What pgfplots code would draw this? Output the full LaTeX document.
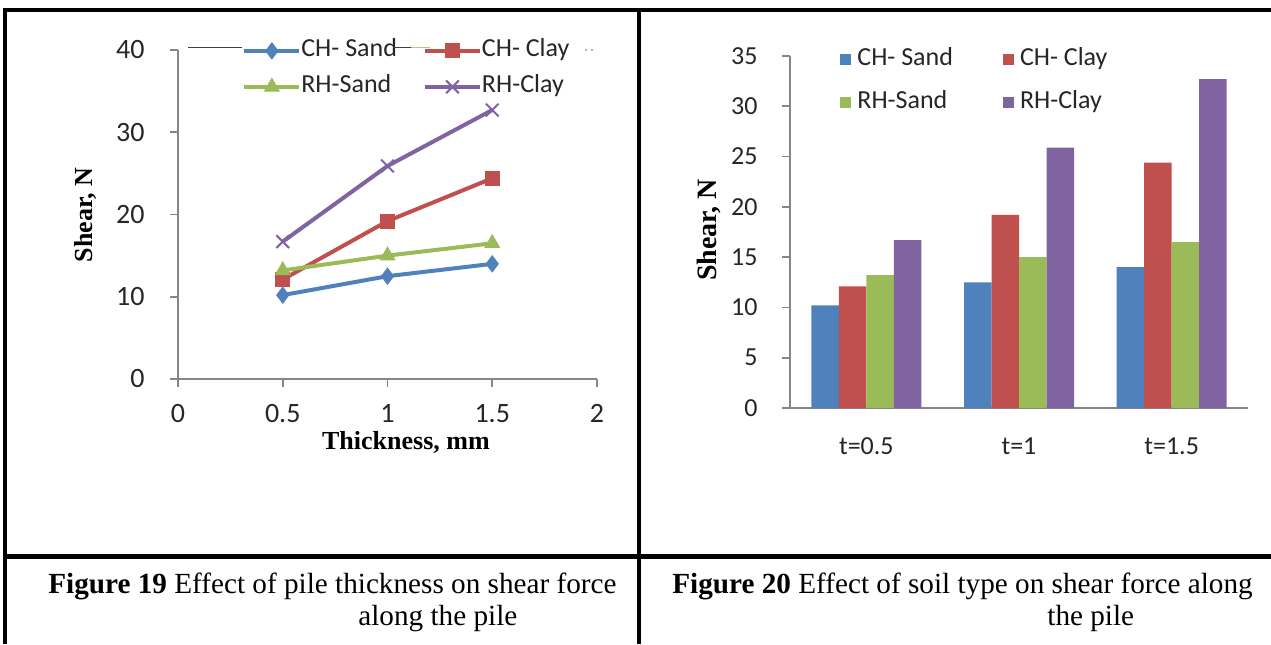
\documentclass[border=0pt]{standalone}
\usepackage{pgfplots}
\usepackage{pgfplotstable}
\pgfplotsset{compat=1.18}
\usepackage{fontspec}
\setmainfont{Liberation Serif}
\newfontfamily\carlito{Carlito}

\definecolor{chsand}{HTML}{4F81BD}
\definecolor{chclay}{HTML}{C0504D}
\definecolor{rhsand}{HTML}{9BBB59}
\definecolor{rhclay}{HTML}{8064A2}
\definecolor{axisgray}{HTML}{868686}
\definecolor{ticktext}{HTML}{262626}

% shear force (N) against pile thickness (mm)
\pgfplotstableread{
t    idx chsand chclay rhsand rhclay
0.5  0   10.2   12.1   13.2   16.7
1.0  1   12.5   19.2   15.0   25.9
1.5  2   14.0   24.4   16.5   32.7
}\shear

\pgfplotsset{
  sqlegend/.style={legend image code/.code={\fill[##1] (0pt,-2.75pt) rectangle (5.5pt,2.75pt);}},
  linelegend/.style={legend image code/.code={\draw[mark repeat=2,mark phase=2,##1] plot coordinates {(0pt,0pt) (13.75pt,0pt) (27.5pt,0pt)};}},
  excelaxis/.style={
    scale only axis,
    axis lines*=left,
    axis line style={axisgray, line width=0.9pt},
    tick style={axisgray, line width=0.9pt},
    tick align=outside,
    major tick length=4pt,
    /pgf/number format/assume math mode=true,
    tick label style={text=ticktext},
  },
}

\begin{document}
\begin{tikzpicture}
\useasboundingbox (0,0) rectangle (635.5pt,322pt);

% ---- thickness chart ----
\begin{axis}[
  excelaxis,
  at={(89pt,132.5pt)}, anchor=south west,
  width=209.5pt, height=164.5pt,
  xmin=0, xmax=2, ymin=0, ymax=40,
  xtick={0,0.5,1,1.5,2}, ytick={0,10,20,30,40},
  tick label style={font=\carlito\fontsize{14}{16}\selectfont},
  yticklabel style={inner sep=0pt, anchor=east, xshift=-12.5pt},
  xticklabel style={inner sep=0pt, anchor=north, yshift=-8.5pt},
  xlabel={Thickness, mm}, ylabel={Shear, N},
  every axis x label/.style={at={(axis description cs:0.544,-0.1915)}, anchor=center,
    font=\bfseries\fontsize{13}{15}\selectfont},
  every axis y label/.style={at={(axis description cs:-0.2196,0.4985)}, rotate=90, anchor=center,
    font=\bfseries\fontsize{13}{15}\selectfont},
  legend columns=2,
  legend cell align=left,
  legend style={
    at={(axis description cs:0.1527,1.035)}, anchor=north west,
    draw=none, fill=none, inner sep=0pt,
    font=\carlito\fontsize{13}{15}\selectfont, text=ticktext,
    nodes={inner sep=0pt, text height=9pt, text depth=3pt},
    row sep=6pt,
    /tikz/every odd column/.append style={column sep=0pt},
    /tikz/every even column/.append style={column sep=13pt},
  },
  every axis plot/.append style={line width=2pt, linelegend},
]
\addplot[color=chsand, mark=diamond*, mark size=4pt, mark options={line width=0.5pt}]
  table[x=t, y=chsand] {\shear};
\addlegendentry{CH- Sand}
\addplot[color=chclay, mark=square*, mark size=3.5pt, mark options={line width=0.5pt}]
  table[x=t, y=chclay] {\shear};
\addlegendentry{CH- Clay}
\addplot[color=rhsand, mark=triangle*, mark size=4.2pt, mark options={line width=0.5pt}]
  table[x=t, y=rhsand] {\shear};
\addlegendentry{RH-Sand}
\addplot[color=rhclay, mark=x, mark size=4.5pt, mark options={line width=1pt}]
  table[x=t, y=rhclay] {\shear};
\addlegendentry{RH-Clay}
\end{axis}

% ---- soil type chart ----
\begin{axis}[
  excelaxis,
  at={(395pt,118pt)}, anchor=south west,
  width=229pt, height=176pt,
  xmin=-0.5, xmax=2.5, ymin=0, ymax=35,
  ybar=0pt, bar width=13.75pt,
  xtick={0,1,2}, xticklabels={t=0.5, t=1, t=1.5},
  major x tick style={draw=none},
  extra x ticks={-0.5,0.5,1.5,2.5}, extra x tick labels={},
  extra x tick style={xtick align=inside},
  ytick={0,5,...,35},
  tick label style={font=\carlito\fontsize{13}{15}\selectfont},
  yticklabel style={inner sep=0pt, anchor=east, xshift=-12pt},
  xticklabel style={inner sep=0pt, anchor=north, yshift=-10.5pt},
  ylabel={Shear, N},
  every axis y label/.style={at={(axis description cs:-0.1769,0.5057)}, rotate=90, anchor=center,
    font=\bfseries\fontsize{14}{16}\selectfont},
  legend columns=2,
  legend cell align=left,
  legend style={
    at={(axis description cs:0.1092,1.0244)}, anchor=north west,
    draw=none, fill=none, inner sep=0pt,
    font=\carlito\fontsize{13}{15}\selectfont, text=ticktext,
    nodes={inner sep=0pt, text height=9pt, text depth=3pt},
    row sep=9.5pt,
    /tikz/every odd column/.append style={column sep=3pt},
    /tikz/every even column/.append style={column sep=25pt},
  },
]
\addplot[fill=chsand, draw=none, sqlegend] table[x=idx, y=chsand] {\shear};
\addlegendentry{CH- Sand}
\addplot[fill=chclay, draw=none, sqlegend] table[x=idx, y=chclay] {\shear};
\addlegendentry{CH- Clay}
\addplot[fill=rhsand, draw=none, sqlegend] table[x=idx, y=rhsand] {\shear};
\addlegendentry{RH-Sand}
\addplot[fill=rhclay, draw=none, sqlegend] table[x=idx, y=rhclay] {\shear};
\addlegendentry{RH-Clay}
\end{axis}

% ---- table rules, stray legend strokes and captions (pixel grid, y downwards) ----
\begin{scope}[x=0.5pt, y=-0.5pt, shift={(0pt,322pt)}]
  \draw[line width=0.5pt, black!75] (188,48) -- (242,48);
  \draw[line width=0.5pt, black!75] (393,48) -- (411,48);
  \draw[line width=0.5pt, rhsand!80!white] (411,48) -- (430,48);
  \fill[black!60] (586,50) circle (0.8) (592,50) circle (0.8);

  \draw[line width=2.25pt] (3,10) -- (1271,10);
  \draw[line width=2.25pt] (5,8) -- (5,644);
  \draw[line width=2.25pt] (639,8) -- (639,644);
  \draw[line width=2.25pt] (3,556.5) -- (1271,556.5);

  \node[anchor=base west, inner sep=0pt, font=\fontsize{14.6}{17}\selectfont] at (48,593)
    {\textbf{Figure 19} Effect of pile thickness on shear force};
  \node[anchor=base west, inner sep=0pt, font=\fontsize{14.6}{17}\selectfont] at (358,625)
    {along the pile};
  \node[anchor=base west, inner sep=0pt, font=\fontsize{14.6}{17}\selectfont] at (672,593)
    {\textbf{Figure 20} Effect of soil type on shear force along};
  \node[anchor=base west, inner sep=0pt, font=\fontsize{14.6}{17}\selectfont] at (1047,625)
    {the pile};
\end{scope}
\end{tikzpicture}
\end{document}
